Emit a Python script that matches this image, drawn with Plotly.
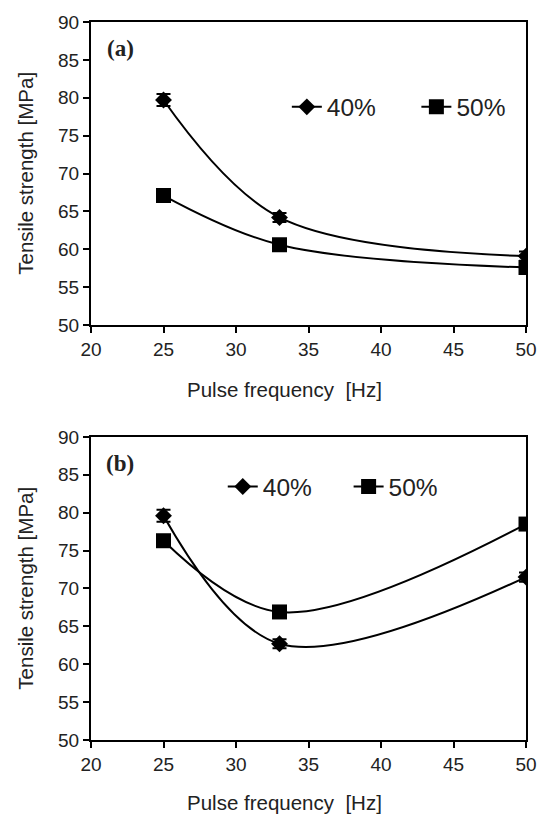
import plotly.graph_objects as go

freq = [25, 33, 50]
a_40 = [79.7, 64.2, 59.1]
a_50 = [67.1, 60.6, 57.6]
a_40_err = [0.8, 0.6, 0.6]
b_40 = [79.6, 62.7, 71.5]
b_50 = [76.3, 66.9, 78.5]
b_40_err = [0.8, 0.6, 0.6]
x_ticks = [20, 25, 30, 35, 40, 45, 50]
y_ticks = [50, 55, 60, 65, 70, 75, 80, 85, 90]
names = ["40%", "50%"]

fig = go.Figure()

line = dict(color="black", width=2, shape="spline", smoothing=1.0)

def add_panel(y40, y50, err40, xa, ya, leg40, leg50):
    fig.add_trace(go.Scatter(
        x=freq, y=y40, name=names[0], mode="lines+markers", line=line,
        marker=dict(symbol="diamond", size=13, color="black"),
        error_y=dict(type="data", array=err40, visible=True, color="black", thickness=2, width=7),
        xaxis=xa, yaxis=ya, legend=leg40, showlegend=True))
    fig.add_trace(go.Scatter(
        x=freq, y=y50, name=names[1], mode="lines+markers", line=line,
        marker=dict(symbol="square", size=15, color="black"),
        xaxis=xa, yaxis=ya, legend=leg50, showlegend=True))

add_panel(a_40, a_50, a_40_err, "x", "y", "legend", "legend2")
add_panel(b_40, b_50, b_40_err, "x2", "y2", "legend3", "legend4")

axis_common = dict(showgrid=False, zeroline=False, showline=True, linecolor="black", linewidth=2,
                   mirror=True, ticks="outside", ticklen=6, tickwidth=2, tickcolor="black",
                   tickfont=dict(family="Liberation Sans, Arial", size=19, color="#222"))

leg_font = dict(family="Liberation Sans, Arial", size=24.5, color="#222")

def leg(x, y):
    return dict(orientation="h", x=x, y=y, xanchor="left", yanchor="middle", font=leg_font,
                bgcolor="rgba(0,0,0,0)", borderwidth=0, itemclick=False, itemdoubleclick=False)

fig.update_layout(
    width=549, height=815,
    showlegend=True,
    margin=dict(l=90.5, r=22.5, t=17.5, b=75),
    plot_bgcolor="white", paper_bgcolor="white",
    xaxis=dict(domain=[0, 1], range=[20, 50], tickvals=x_ticks, anchor="y", **axis_common),
    yaxis=dict(domain=[0.5779, 1], range=[50, 90], tickvals=y_ticks, anchor="x", **axis_common),
    xaxis2=dict(domain=[0, 1], range=[20, 50], tickvals=x_ticks, anchor="y2", **axis_common),
    yaxis2=dict(domain=[0, 0.4221], range=[50, 90], tickvals=y_ticks, anchor="x2", **axis_common),
    legend=leg(0.4502, 0.8817),
    legend2=leg(0.748, 0.8817),
    legend3=leg(0.3029, 0.3529),
    legend4=leg(0.5922, 0.3529),
)

ann_font = dict(family="Liberation Sans, Arial", size=20.5, color="#222")
panel_font = dict(family="Liberation Serif, Times New Roman", size=23, color="#222")
for yc, xt_y, lab, lab_y in [(0.789, 0.4886, "(a)", 0.9633), (0.2111, -0.0872, "(b)", 0.3848)]:
    fig.add_annotation(text="Tensile strength [MPa]", textangle=-90, x=-0.1512, y=yc,
                       xref="paper", yref="paper", showarrow=False, font=ann_font,
                       xanchor="center", yanchor="middle")
    fig.add_annotation(text="Pulse frequency  [Hz]", x=0.4444, y=xt_y, xref="paper", yref="paper",
                       showarrow=False, font=ann_font, xanchor="center", yanchor="middle")
    fig.add_annotation(text="<b>" + lab + "</b>", x=0.0676, y=lab_y, xref="paper", yref="paper",
                       showarrow=False, font=panel_font, xanchor="center", yanchor="middle")

fig.write_html("out.html", config={"displayModeBar": False},
               post_script="document.body.style.margin='0';")
